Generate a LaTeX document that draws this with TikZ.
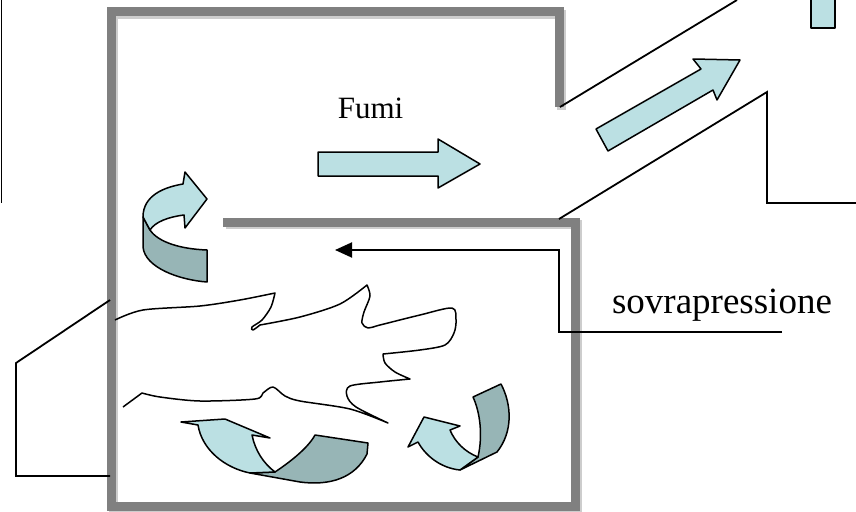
\documentclass[tikz,border=0pt]{standalone}
\usepackage{fontspec}
\setmainfont{Liberation Serif}
\usetikzlibrary{arrows.meta}
\definecolor{ribbonlight}{RGB}{187,224,227}
\definecolor{ribbondark}{RGB}{151,181,182}
\definecolor{wallgray}{RGB}{128,128,128}
\definecolor{wallshade}{RGB}{205,205,205}

\begin{document}
\begin{tikzpicture}[x=1pt,y=-1pt,
  thinline/.style={line width=1.8pt},
  light/.style={fill=ribbonlight,draw=black,line width=1.5pt,line join=round},
  dark/.style={fill=ribbondark,draw=black,line width=1.5pt,line join=round}]
  \useasboundingbox (0,0) rectangle (856,511);
  % Stove walls (shade first, then the wall)
  \foreach \c/\d in {wallshade/2.5, wallgray/0} {
    \draw[\c,line width=9pt,shift={(\d,\d)}] (559,107) -- (559,12) -- (111,12) -- (111,506) -- (575,506) -- (575,222) -- (223,222);
  }
  % Flue pipe
  \draw[thinline] (560,107) -- (737,0);
  \draw[thinline] (559,219) -- (767,92) -- (767,203) -- (856,203);
  \draw[light] (811,-2) rectangle (835,28);
  % Side lines
  \draw[thinline] (1.5,0) -- (1.5,203);
  \draw[thinline] (110,300) -- (16,363) -- (16,476) -- (110,476);
  % Labels
  \node[font=\fontsize{31}{31}\selectfont,anchor=base] (fumi) at (370.5,118) {Fumi};
  \node[font=\fontsize{37}{37}\selectfont,anchor=base] (sovra) at (722,313) {sovrapressione};
  % Overpressure line
  \coordinate (sovraend) at (782,332);
  \draw[line width=1.9pt,-{Triangle[length=17pt,width=15pt]}] (sovraend) -- (559,332) -- (559,250) -- (335,250);
  % Straight flow arrows
  \draw[light] (318,152) -- (438,152) -- (438,139) -- (480,164) -- (438,188) -- (438,176) -- (318,176) -- cycle;
  \draw[light] (596,129) -- (701,69) -- (693,59) -- (740,60) -- (717,100) -- (713,90) -- (608,151) -- cycle;
  % Curled arrow, upper left
  \draw[dark] (143,217) -- (143,247) .. controls (145,268) and (180,280) .. (207,282) -- (207,250)
    .. controls (180,249) and (158,242) .. (150,230) -- cycle;
  \draw[light] (143,217) .. controls (143,195) and (165,187) .. (183,184) -- (185,172) -- (207,199)
    -- (185,228) -- (184,215) .. controls (168,217) and (155,222) .. (150,230) -- cycle;
  % Curled arrow, bottom middle
  \draw[dark] (275,472) .. controls (290,462) and (308,448) .. (315,435) -- (368,443) -- (367,454)
    .. controls (355,478) and (330,486) .. (300,482) -- (250,473) -- cycle;
  \draw[light] (181,422) -- (225,419) -- (270,438) -- (252,435) .. controls (255,450) and (263,463) .. (275,472)
    -- (250,473) .. controls (225,468) and (202,450) .. (198,425) -- cycle;
  % Curled arrow, bottom right
  \draw[dark] (478,457) .. controls (483,435) and (480,412) .. (473,397) -- (501,384)
    .. controls (512,405) and (513,432) .. (497,452) -- (460,470) -- cycle;
  \draw[light] (408,447) -- (424,417) -- (460,426) -- (450,430) .. controls (455,442) and (465,452) .. (478,457)
    -- (460,470) .. controls (440,468) and (425,455) .. (418,442) -- cycle;
  % Flame outline
  \draw[line width=1.5pt,line join=round]
    plot[smooth] coordinates {(115,320) (143,310) (200,306) (240,300) (275,293)}
    -- plot[smooth] coordinates {(275,293) (271,307) (262,320) (252,327) (253,330) (260,325)}
    -- plot[smooth] coordinates {(260,325) (300,317) (340,304) (367,285)}
    -- plot[smooth] coordinates {(367,285) (370,296) (364,312) (362,323) (368,328) (380,325) (420,315) (452,308) (456,320) (454,333) (445,345) (420,350) (383,354)}
    -- plot[smooth] coordinates {(383,354) (385,363) (395,372) (410,379)}
    -- plot[smooth] coordinates {(410,379) (380,382) (350,386) (347,396) (356,407) (388,423)}
    -- plot[smooth] coordinates {(388,423) (350,409) (300,401) (285,396) (273,387) (263,393) (255,399) (200,401) (160,397) (142,393)}
    -- (123,407);
\end{tikzpicture}
\end{document}
